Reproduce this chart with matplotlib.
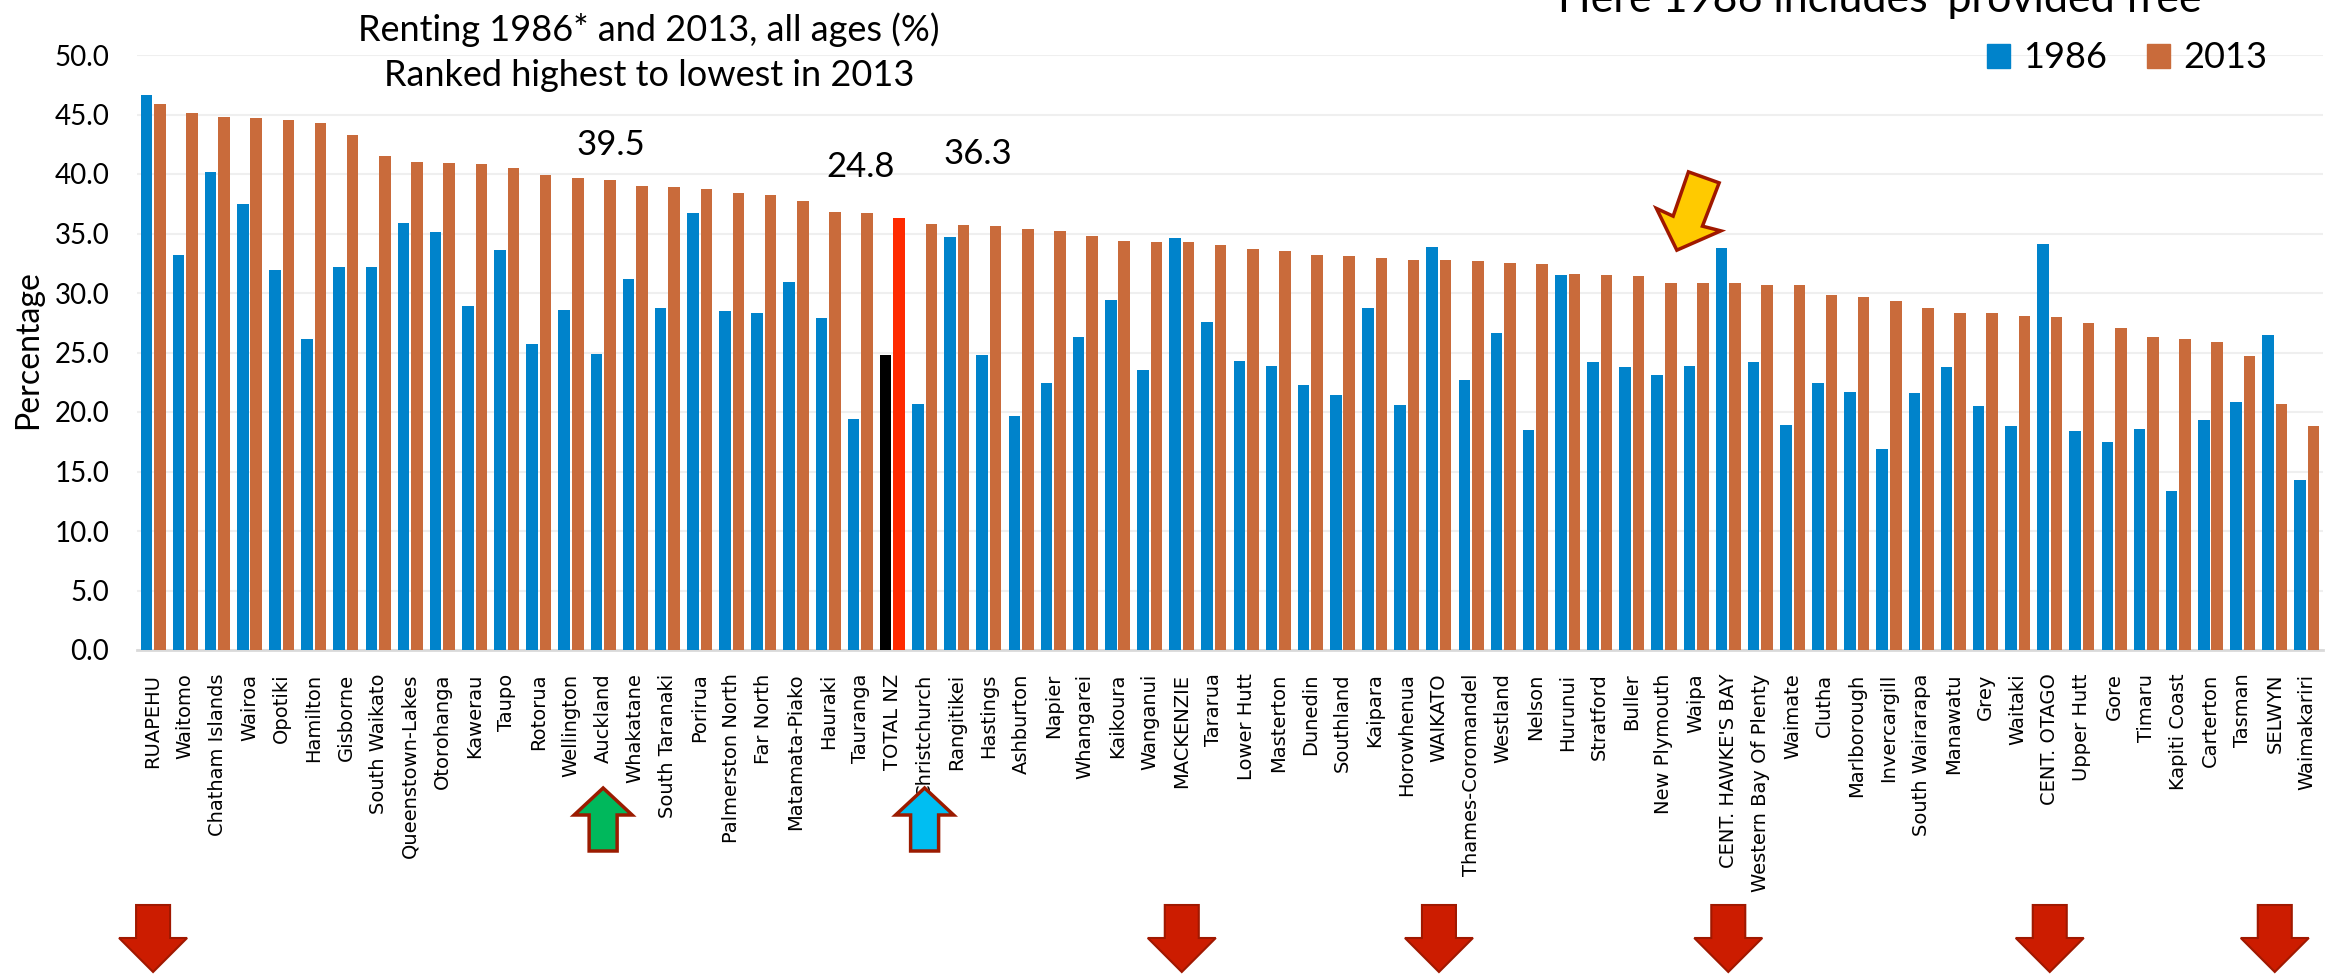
import matplotlib
matplotlib.use('Agg')
import matplotlib.pyplot as plt
import numpy as np
from matplotlib.patches import Polygon, Patch
from matplotlib.ticker import FormatStrFormatter

# renting % by district, ranked on 2013
regions = ['RUAPEHU', 'Waitomo', 'Chatham Islands', 'Wairoa', 'Opotiki', 'Hamilton',
           'Gisborne', 'South Waikato', 'Queenstown-Lakes', 'Otorohanga', 'Kawerau',
           'Taupo', 'Rotorua', 'Wellington', 'Auckland', 'Whakatane', 'South Taranaki',
           'Porirua', 'Palmerston North', 'Far North', 'Matamata-Piako', 'Hauraki',
           'Tauranga', 'TOTAL NZ', 'Christchurch', 'Rangitikei', 'Hastings', 'Ashburton',
           'Napier', 'Whangarei', 'Kaikoura', 'Wanganui', 'MACKENZIE', 'Tararua',
           'Lower Hutt', 'Masterton', 'Dunedin', 'Southland', 'Kaipara', 'Horowhenua',
           'WAIKATO', 'Thames-Coromandel', 'Westland', 'Nelson', 'Hurunui', 'Stratford',
           'Buller', 'New Plymouth', 'Waipa', "CENT. HAWKE'S BAY", 'Western Bay Of Plenty',
           'Waimate', 'Clutha', 'Marlborough', 'Invercargill', 'South Wairarapa',
           'Manawatu', 'Grey', 'Waitaki', 'CENT. OTAGO', 'Upper Hutt', 'Gore', 'Timaru',
           'Kapiti Coast', 'Carterton', 'Tasman', 'SELWYN', 'Waimakariri']

pct_1986 = [46.6, 33.2, 40.2, 37.5, 31.9, 26.1, 32.2, 32.2, 35.9, 35.1, 28.9,
            33.6, 25.7, 28.6, 24.9, 31.2, 28.7, 36.7, 28.5, 28.3, 30.9, 27.9,
            19.4, 24.8, 20.7, 34.7, 24.8, 19.7, 22.4, 26.3, 29.4, 23.5, 34.6, 27.6,
            24.3, 23.9, 22.3, 21.4, 28.7, 20.6, 33.9, 22.7, 26.6, 18.5, 31.5, 24.2,
            23.8, 23.1, 23.9, 33.8, 24.2, 18.9, 22.4, 21.7, 16.9, 21.6,
            23.8, 20.5, 18.8, 34.1, 18.4, 17.5, 18.6, 13.4, 19.3, 20.8, 26.5, 14.3]

pct_2013 = [45.9, 45.1, 44.8, 44.7, 44.5, 44.3, 43.3, 41.5, 41.0, 40.9, 40.8,
            40.5, 39.9, 39.7, 39.5, 39.0, 38.9, 38.7, 38.4, 38.2, 37.7, 36.8,
            36.7, 36.3, 35.8, 35.7, 35.6, 35.4, 35.2, 34.8, 34.4, 34.3, 34.3, 34.0,
            33.7, 33.5, 33.2, 33.1, 32.9, 32.8, 32.8, 32.7, 32.5, 32.4, 31.6, 31.5,
            31.4, 30.8, 30.8, 30.8, 30.7, 30.7, 29.8, 29.7, 29.3, 28.7,
            28.3, 28.3, 28.1, 28.0, 27.5, 27.1, 26.3, 26.1, 25.9, 24.7, 20.7, 18.8]

total_name = 'TOTAL NZ'
down_marked = ['RUAPEHU', 'MACKENZIE', 'WAIKATO', "CENT. HAWKE'S BAY", 'CENT. OTAGO', 'SELWYN']
up_marked = [('Auckland', '#00B85C'), ('Christchurch', '#00BEF2')]

W, H = 2341, 974
fig = plt.figure(figsize=(W / 100, H / 100), dpi=100)
ax = fig.add_axes([137 / W, 1 - 650 / H, (2323 - 137) / W, (650 - 55) / H])

LATO = ['Lato', 'DejaVu Sans']
n = len(regions)
x = np.arange(n)
itot = regions.index(total_name)

c86 = ['#0083CB'] * n
c13 = ['#C96B3B'] * n
c86[itot] = '#000000'
c13[itot] = '#FF2A00'

ax.bar(x - 0.21, pct_1986, 0.36, color=c86, zorder=3)
ax.bar(x + 0.21, pct_2013, 0.36, color=c13, zorder=3)

ax.set_xlim(-0.5, n - 0.5)
ax.set_ylim(0, 50)
ax.set_yticks(np.arange(0, 50.1, 5))
ax.yaxis.set_major_formatter(FormatStrFormatter('%.1f'))
ax.yaxis.grid(True, color='#EFEFEF', lw=1.5)
ax.set_axisbelow(True)
for s in ['top', 'right', 'left']:
    ax.spines[s].set_visible(False)
ax.spines['bottom'].set_color('#D9D9D9')
ax.spines['bottom'].set_linewidth(2)
ax.tick_params(axis='x', length=0, pad=17)
ax.tick_params(axis='y', length=0, pad=20)
ax.set_xticks(x)
ax.set_xticklabels(regions, rotation=90, fontsize=14, family='DejaVu Sans')
for t in ax.get_yticklabels():
    t.set_family(LATO)
    t.set_fontsize(20)

fig.text(28 / W, 1 - 350 / H, 'Percentage', rotation=90, ha='center', va='center',
         fontsize=23, family=LATO)

# titles
fig.text(649 / W, 1 - 30 / H, 'Renting 1986* and 2013, all ages (%)', ha='center',
         va='center', fontsize=26, family=LATO)
fig.text(649 / W, 1 - 75 / H, 'Ranked highest to lowest in 2013', ha='center',
         va='center', fontsize=26, family=LATO)
fig.text(1884 / W, 1 - 12 / H, "Here 1986 includes 'provided free'", ha='center',
         va='baseline', fontsize=31, family=LATO)

# callout values
iauk = regions.index('Auckland')
ax.text(iauk + 0.24, 42.4, f'{pct_2013[iauk]:.1f}', ha='center', va='center',
        fontsize=25, family=LATO)
ax.text(itot - 1.0, 40.6, f'{pct_1986[itot]:.1f}', ha='center', va='center',
        fontsize=25, family=LATO)
ax.text(itot + 2.66, 41.7, f'{pct_2013[itot]:.1f}', ha='center', va='center',
        fontsize=25, family=LATO)

# legend
handles = [Patch(color='#0083CB', label='1986'), Patch(color='#C96B3B', label='2013')]
fig.legend(handles=handles, loc='center right', bbox_to_anchor=(2285 / W, 1 - 58 / H),
           ncol=2, frameon=False, borderpad=0, handlelength=0.65, handleheight=0.65,
           handletextpad=0.35, columnspacing=1.1, prop={'family': LATO, 'size': 26})


def px_x(i):
    return ax.transData.transform((i, 0))[0]


def add_shape(pts, fc, ec, lw=2):
    verts = [(px / W, 1 - py / H) for px, py in pts]
    fig.patches.append(Polygon(verts, closed=True, fc=fc, ec=ec, lw=lw,
                               transform=fig.transFigure, figure=fig, joinstyle='miter'))


def block_arrow(cx, y_tip, y_neck, y_end, shaft_w, head_w, fc, ec, lw=2):
    s, h = shaft_w / 2, head_w / 2
    pts = [(cx, y_tip), (cx + h, y_neck), (cx + s, y_neck), (cx + s, y_end),
           (cx - s, y_end), (cx - s, y_neck), (cx - h, y_neck)]
    add_shape(pts, fc, ec, lw)


for name in down_marked:
    block_arrow(px_x(regions.index(name)), 972, 938, 905, 34, 68, '#CC1C00', '#A01800', 1.5)

for name, col in up_marked:
    cx = px_x(regions.index(name))
    block_arrow(cx, 788, 815, 851, 28, 58, col, '#9B1B00', 2.5)

# yellow arrow pointing at CENT. HAWKE'S BAY
ichb = regions.index("CENT. HAWKE'S BAY")
tx, ty = ax.transData.transform((ichb - 1.6, 33.6))
ty = H - ty
shape = [(0, 0), (-20.4, -41.7), (-3.7, -34), (11.6, -78.3), (42.3, -67.3),
         (25.6, -24), (44, -19.3)]
add_shape([(tx + dx, ty + dy) for dx, dy in shape], '#FFCA00', '#A01800', 2.5)

fig.savefig('out.png', dpi=100)
